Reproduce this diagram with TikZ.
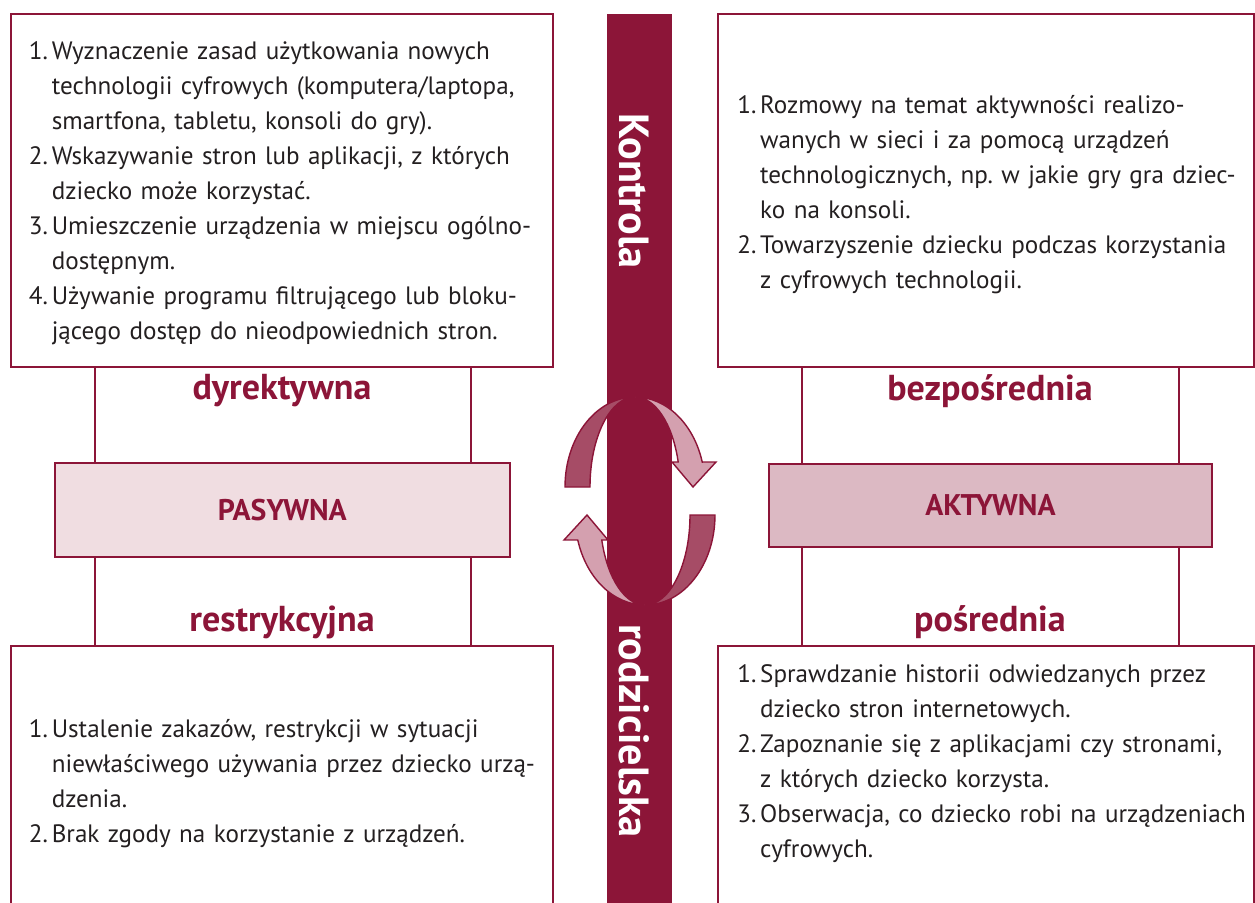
\documentclass[tikz,border=0pt]{standalone}
\usepackage{fontspec}
\setmainfont{PT Sans}
\usetikzlibrary{positioning,calc}
\definecolor{bordo}{HTML}{8C1538}
\definecolor{lukciemny}{HTML}{A64C66}
\definecolor{lukjasny}{HTML}{D4A0AF}
\definecolor{pasjasny}{HTML}{F0DDE1}
\definecolor{aktjasny}{HTML}{DCB9C3}
\definecolor{tekst}{HTML}{231F20}
\frenchspacing
\newcommand{\pkt}[2]{\par\noindent\hangindent=13pt\hangafter=1\makebox[13pt][l]{#1}#2\par}
% polowa obrotu: ciemny luk z lewej, jasny z grotem z prawej
\newcommand{\polobrot}{%
  \filldraw[fill=lukciemny,draw=bordo,line width=0.8pt] (565,-487)
    arc[start angle=180,end angle=90,x radius=70,y radius=90]
    arc[start angle=90,end angle=180,x radius=45,y radius=90] -- cycle;
  \filldraw[fill=lukjasny,draw=bordo,line width=0.8pt] (635,-397)
    arc[start angle=90,end angle=16.1,x radius=70,y radius=90]
    -- (716,-462) -- (693,-487) -- (672,-462) -- (678.2,-462)
    arc[start angle=16.1,end angle=90,x radius=45,y radius=90] -- cycle;
}
\tikzset{
  ramka/.style={draw=bordo, line width=1.1pt, inner sep=0pt},
  linia/.style={draw=bordo, line width=1.1pt},
  opis/.style={anchor=west, text width=10.5cm, align=left, inner sep=0pt,
    text=tekst, font=\fontsize{14.3pt}{19.9pt}\selectfont},
  etykieta/.style={text=bordo, font=\bfseries\fontsize{20.5pt}{24pt}\selectfont},
  postawa/.style={ramka, text=bordo, font=\bfseries\fontsize{17pt}{20pt}\selectfont},
  pionowy/.style={text=white, rotate=-90, font=\bfseries\fontsize{24pt}{28pt}\selectfont},
}
\begin{document}
\begin{tikzpicture}[x=0.02cm,y=0.02cm]
  \useasboundingbox (0,0) rectangle (1255,-903);
  \clip (0,0) rectangle (1255,-903);

  % cztery ramki
  \node[ramka, minimum width=10.86cm, minimum height=7.06cm] (dyr) at (282,-190.5) {};
  \node[ramka, minimum width=10.72cm, minimum height=7.06cm] (bez) at (986,-190.5) {};
  \node[ramka, minimum width=10.86cm, minimum height=5.88cm] (res) at (282,-793) {};
  \node[ramka, minimum width=10.72cm, minimum height=5.88cm] (pos) at (986,-793) {};

  % postawy
  \node[postawa, fill=pasjasny, minimum width=9.1cm, minimum height=1.88cm] (pas) at (282.3,-510) {PASYWNA};
  \node[postawa, fill=aktjasny, minimum width=8.86cm, minimum height=1.66cm] (akt) at (990.5,-505.5) {AKTYWNA};

  % pionowe linie
  \coordinate (l1) at (94.6,0);
  \coordinate (l2) at (470.7,0);
  \coordinate (p1) at (802,0);
  \coordinate (p2) at (1179,0);
  \draw[linia] (dyr.south -| l1) -- (pas.north -| l1);
  \draw[linia] (dyr.south -| l2) -- (pas.north -| l2);
  \draw[linia] (pas.south -| l1) -- (res.north -| l1);
  \draw[linia] (pas.south -| l2) -- (res.north -| l2);
  \draw[linia] (bez.south -| p1) -- (akt.north -| p1);
  \draw[linia] (bez.south -| p2) -- (akt.north -| p2);
  \draw[linia] (akt.south -| p1) -- (pos.north -| p1);
  \draw[linia] (akt.south -| p2) -- (pos.north -| p2);

  \node[etykieta] (e1) at (282,-391) {dyrektywna};
  \node[etykieta] (e2) at (282,-622) {restrykcyjna};
  \node[etykieta] (e3) at (990,-391) {bezpośrednia};
  \node[etykieta] (e4) at (990,-622) {pośrednia};

  % pasek srodkowy
  \node[fill=bordo, inner sep=0pt, minimum width=1.3cm, minimum height=17.9cm] (pasek) at (639.5,-461) {};
  \node[pionowy] (kon) at (634,-191) {Kontrola};
  \node[pionowy] (rodz) at (634,-731) {rodzicielska};

  % strzalki
  \polobrot
  \begin{scope}[rotate around={180:(640,-501)}]
    \polobrot
  \end{scope}

  % opisy
  \node[opis] (t1) at (28.6,-185) {%
    \pkt{1.}{Wyznaczenie zasad użytkowania nowych\newline technologii cyfrowych (komputera/laptopa,\newline smartfona, tabletu, konsoli do gry).}
    \pkt{2.}{Wskazywanie stron lub aplikacji, z których\newline dziecko może korzystać.}
    \pkt{3.}{Umieszczenie urządzenia w miejscu ogólno-\newline dostępnym.}
    \pkt{4.}{Używanie programu filtrującego lub bloku-\newline jącego dostęp do nieodpowiednich stron.}};
  \node[opis] (t2) at (737,-186) {%
    \pkt{1.}{Rozmowy na temat aktywności realizo-\newline wanych w sieci i za pomocą urządzeń\newline technologicznych, np. w jakie gry gra dziec-\newline ko na konsoli.}
    \pkt{2.}{Towarzyszenie dziecku podczas korzystania\newline z cyfrowych technologii.}};
  \node[opis] (t3) at (28.6,-775) {%
    \pkt{1.}{Ustalenie zakazów, restrykcji w sytuacji\newline niewłaściwego używania przez dziecko urzą-\newline dzenia.}
    \pkt{2.}{Brak zgody na korzystanie z urządzeń.}};
  \node[opis] (t4) at (737,-755) {%
    \pkt{1.}{Sprawdzanie historii odwiedzanych przez\newline dziecko stron internetowych.}
    \pkt{2.}{Zapoznanie się z aplikacjami czy stronami,\newline z których dziecko korzysta.}
    \pkt{3.}{Obserwacja, co dziecko robi na urządzeniach\newline cyfrowych.}};
\end{tikzpicture}
\end{document}
